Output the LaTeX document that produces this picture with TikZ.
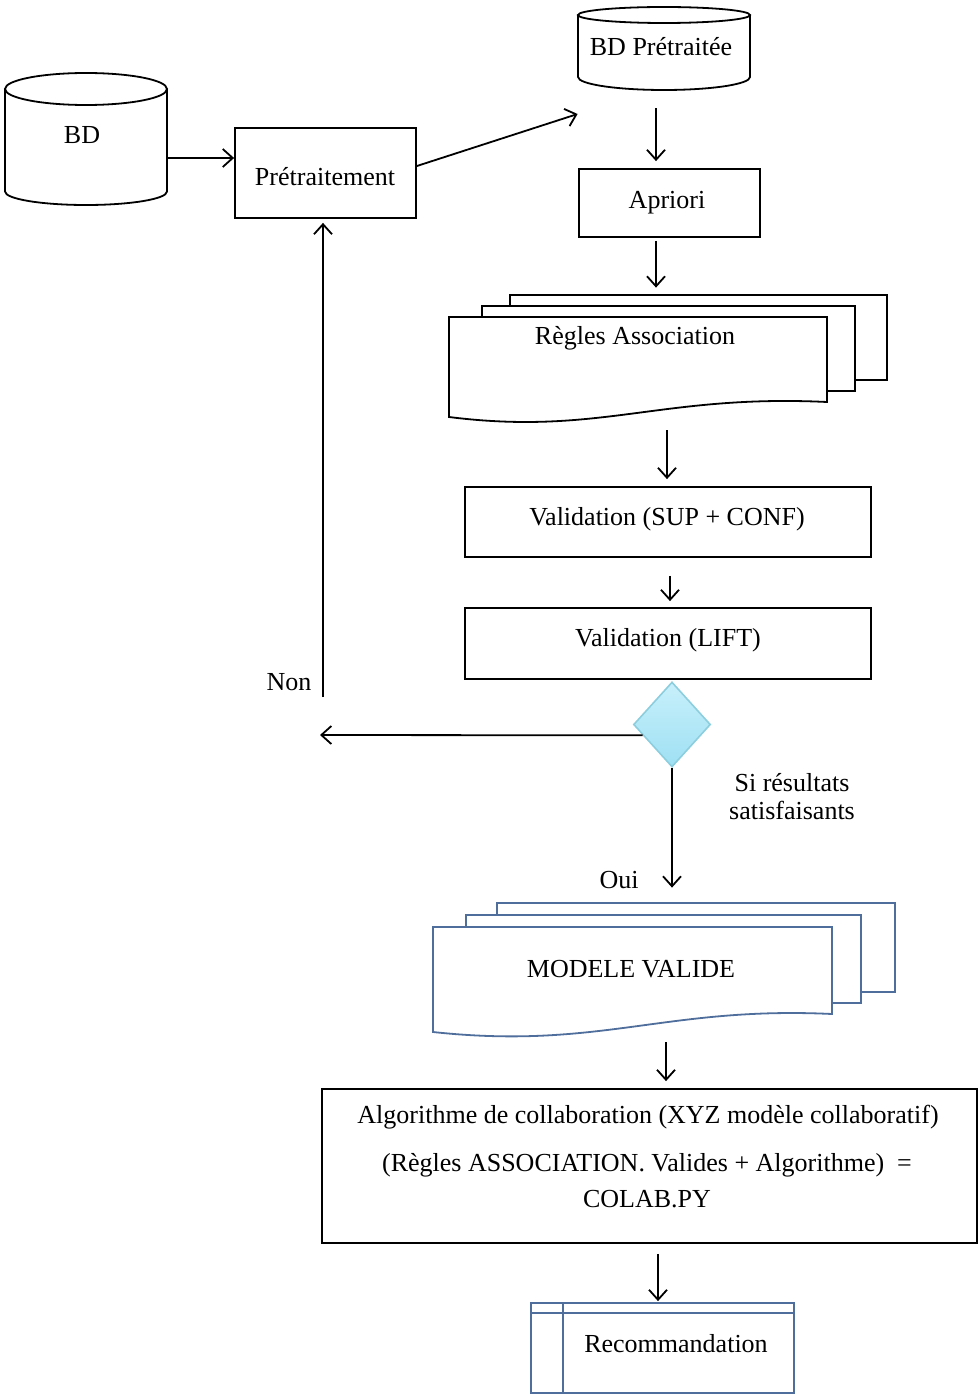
\documentclass[tikz,border=0pt]{standalone}
\usepackage{fontspec}
\setmainfont{Liberation Serif}
\usetikzlibrary{arrows.meta,shapes.geometric,fit,calc}
\definecolor{docblue}{RGB}{79,110,156}
\definecolor{diatop}{RGB}{200,240,251}
\definecolor{diabot}{RGB}{158,224,243}
\definecolor{diaedge}{RGB}{140,206,222}
\tikzset{
  ln/.style={line width=0.9pt},
  arr/.style={ln,-{Straight Barb[length=5pt,width=9pt,line width=0.9pt]}},
  box/.style={draw, ln, inner sep=0pt, fill=white},
  area/.style={inner sep=0pt},
  txt/.style={font=\fontsize{13}{17}\selectfont, inner sep=0pt},
}
\begin{document}
\begin{tikzpicture}[x=0.5pt,y=-0.5pt]
\useasboundingbox (0,0) rectangle (978,1396);

% --- database BD
\node[area, fit={(5,73) (167,205)}] (bd) {};
\draw[ln, fill=white] (5,89) -- (5,191.5) arc[start angle=180,end angle=360,x radius=40.5pt,y radius=6.75pt] -- (167,89);
\draw[ln, fill=white] (86,89) ellipse [x radius=40.5pt, y radius=8pt];
\node[txt] (bdtext) at (82,135) {BD};

% --- preprocessing
\node[box, fit={(235,128) (416,218)}] (pre) {};
\node[txt] (pretext) at (325,177) {Prétraitement};

% --- preprocessed database
\node[area, fit={(578,7) (750,90)}] (bdp) {};
\draw[ln, fill=white] (578,15) -- (578,77) arc[start angle=180,end angle=360,x radius=43pt,y radius=6.5pt] -- (750,15);
\draw[ln, fill=white] (664,15) ellipse [x radius=43pt, y radius=4pt];
\node[txt] (bdptext) at (661,47) {BD Prétraitée};

% --- Apriori
\node[box, fit={(579,169) (760,237)}] (apriori) {};
\node[txt] (aprioritext) at (667,203) {Apriori};

% --- stacked documents: association rules
\node[area, fit={(449,295) (887,422)}] (regles) {};
\draw[ln, fill=white] (510,306) -- (510,295) -- (887,295) -- (887,380) -- (855,380);
\draw[ln, fill=white] (482,317) -- (482,306) -- (855,306) -- (855,391) -- (827,391);
\draw[ln, fill=white] (449,317) -- (827,317) -- (827,402)
  .. controls (660,394) and (600,436) .. (449,417) -- cycle;
\node[txt] (reglestext) at (635,338) {Règles Association};

% --- validation steps
\node[box, fit={(465,487) (871,557)}] (v1) {};
\node[txt] (v1text) at (667,519) {Validation (SUP + CONF)};
\node[box, fit={(465,608) (871,679)}] (v2) {};
\node[txt] (v2text) at (668,640) {Validation (LIFT)};

% --- decision
\node[diamond, draw=diaedge, line width=0.8pt, top color=diatop, bottom color=diabot,
      minimum width=38.5pt, minimum height=42.5pt, inner sep=0pt] (dia) at (672,724.5) {};
\node[txt, align=center, font=\fontsize{13}{14}\selectfont] (sitext) at (792,797) {Si résultats\\satisfaisants};
\node[txt] (oui) at (619,880) {Oui};
\node[txt] (non) at (289,682) {Non};
\coordinate (nonup) at (323,697);
\coordinate (nonleft) at (320,735);

% --- stacked documents: validated model
\node[area, fit={(433,903) (895,1032)}] (modele) {};
\begin{scope}[draw=docblue]
\draw[ln, fill=white] (497,915) -- (497,903) -- (895,903) -- (895,992) -- (861,992);
\draw[ln, fill=white] (466,927) -- (466,915) -- (861,915) -- (861,1003) -- (832,1003);
\draw[ln, fill=white] (433,927) -- (832,927) -- (832,1014)
  .. controls (665,1006) and (600,1050) .. (433,1032) -- cycle;
\end{scope}
\node[txt] (modeletext) at (631,969) {MODELE VALIDE};

% --- collaboration algorithm
\node[box, fit={(322,1089) (977,1243)}] (algo) {};
\node[txt] (algo1) at (648,1117) {Algorithme de collaboration (XYZ modèle collaboratif)};
\node[txt] (algo2) at (647,1165) {(Règles ASSOCIATION. Valides + Algorithme)\ \ =};
\node[txt] (algo3) at (647,1199) {COLAB.PY};

% --- recommendation
\node[box, draw=docblue, fit={(531,1303) (794,1393)}] (reco) {};
\draw[ln, docblue] (reco.north west |- 0,1313) -- (reco.north east |- 0,1313);
\draw[ln, docblue] (reco.north west -| 563,0) -- (reco.south west -| 563,0);
\node[txt] (recotext) at (676,1344) {Recommandation};

% --- connectors
\draw[arr] (bd.east |- 0,158) -- (pre.west |- 0,158);
\draw[arr] (pre.east |- 0,166) -- (bdp.west |- 0,114);
\draw[arr, shorten <=9pt, shorten >=3.5pt] (bdp.south -| 656,0) -- (apriori.north -| 656,0);
\draw[arr, shorten <=1.5pt, shorten >=3.5pt] (apriori.south -| 656,0) -- (regles.north -| 656,0);
\draw[arr, shorten <=4pt, shorten >=3.5pt] (regles.south -| 667,0) -- (v1.north -| 667,0);
\draw[arr, shorten <=9pt, shorten >=3pt] (v1.south -| 670,0) -- (v2.north -| 670,0);
\draw[arr] ($(dia.west)!0.25!(dia.south)$) -- (nonleft);
\draw[arr, shorten >=2pt] (nonup) -- (pre.south -| nonup);
\draw[arr, shorten >=7.5pt] (dia.south) -- (dia.south |- modele.north);
\draw[arr, shorten <=5pt, shorten >=3.5pt] (modele.south -| 666,0) -- (algo.north -| 666,0);
\draw[arr, shorten <=5pt, shorten >=0.5pt] (algo.south -| 658,0) -- (reco.north -| 658,0);
\end{tikzpicture}
\end{document}
